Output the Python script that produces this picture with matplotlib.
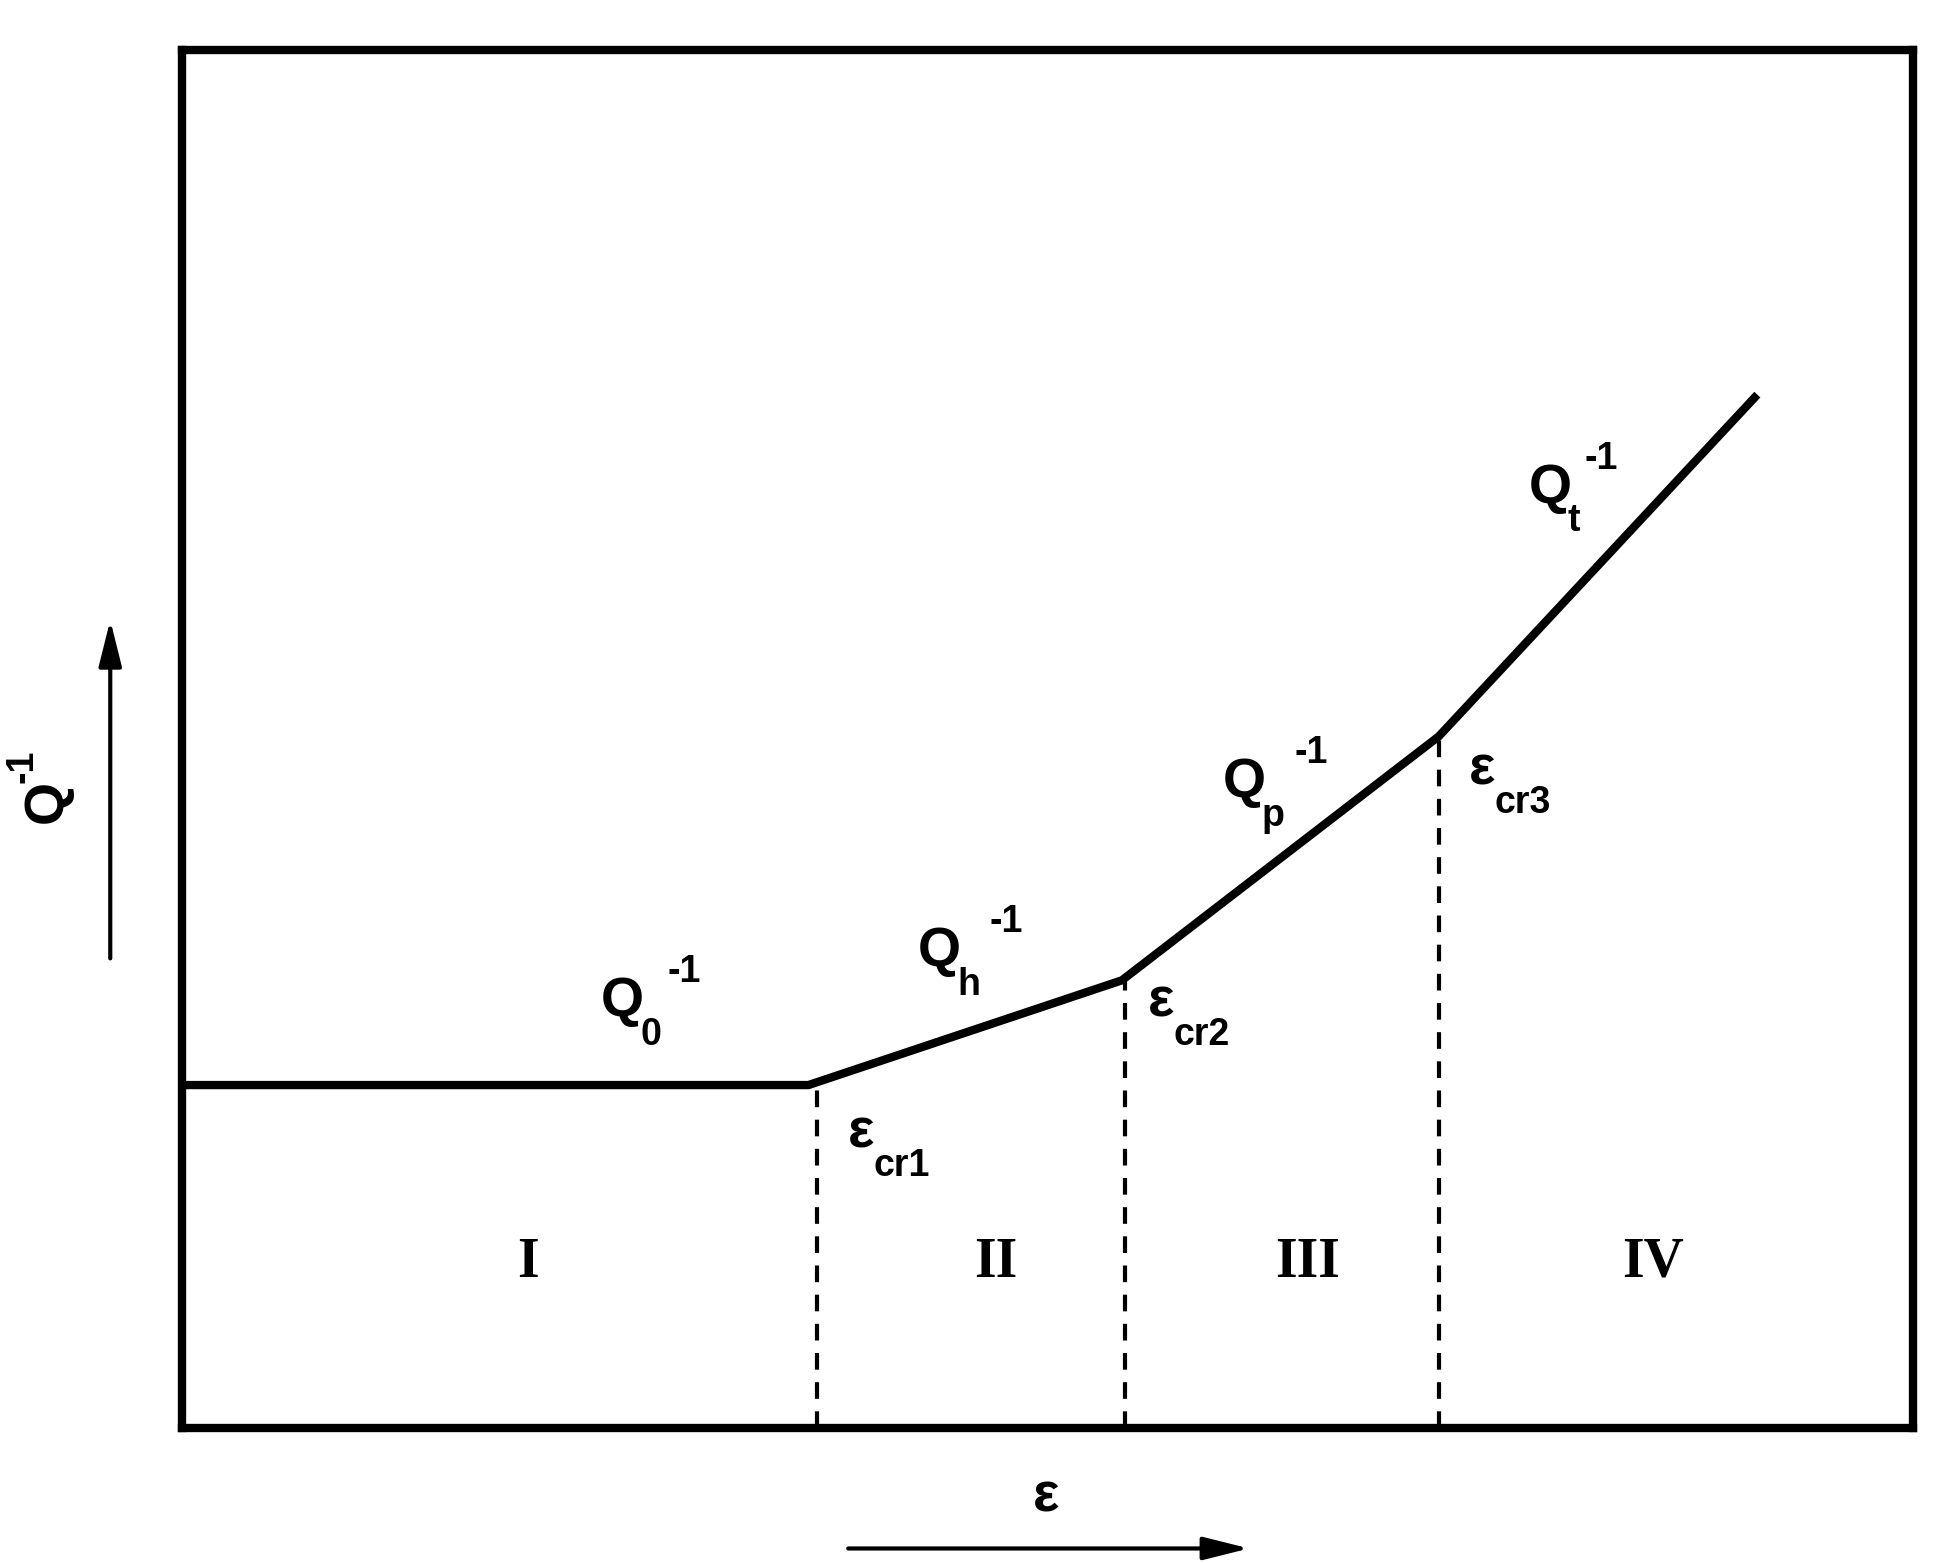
import matplotlib
matplotlib.use("Agg")
import matplotlib.pyplot as plt

# data
strain = [0, 36.2, 54.3, 72.6, 91.0]
q_inv = [24.9, 24.9, 32.5, 50.2, 75.0]
crit_x = [36.7, 54.5, 72.6]
crit_y = [24.9, 32.5, 50.2]
regions = ["I", "II", "III", "IV"]
region_x = [20, 47, 65, 85]

W, H = 1550, 1247.6
fig = plt.figure(figsize=(19.42, 15.63), dpi=100)
ax = fig.add_axes([145/W, 1-1140/H, 1382/W, 1100/H])
ax.set_xlim(0, 100); ax.set_ylim(0, 100)
ax.set_xticks([]); ax.set_yticks([])
for s in ax.spines.values():
    s.set_linewidth(6)
ax.plot(strain, q_inv, color="black", lw=6, solid_capstyle="butt")
for x, y in zip(crit_x, crit_y):
    ax.plot([x, x], [0, y], color="black", lw=3, ls=(0, (4, 3)))

def P(px, py):
    return (px/W, 1-py/H)

bold = dict(family="Liberation Sans", weight="bold", color="black")
def lab(main, sub, sup, x, y, dx_sub, dx_sup):
    fig.text(*P(x, y), main, fontsize=40, ha="center", va="center", **bold)
    fig.text(*P(x+dx_sub, y+26), sub, fontsize=27, ha="left", va="center", **bold)
    if sup:
        fig.text(*P(x+dx_sup, y-24), sup, fontsize=27, ha="left", va="center", **bold)

lab("Q", "0", "-1", 497, 800, 14, 36)
lab("Q", "h", "-1", 750, 760, 14, 40)
lab("Q", "p", "-1", 993, 625, 14, 40)
lab("Q", "t", "-1", 1237, 390, 14, 28)
lab("ε", "cr1", None, 687, 905, 10, 0)
lab("ε", "cr2", None, 927, 800, 10, 0)
lab("ε", "cr3", None, 1183, 615, 10, 0)

for r, x in zip(regions, region_x):
    ax.text(x, 12, r, fontsize=40, family="Liberation Serif", weight="bold",
            ha="center", va="center")

aprops = dict(arrowstyle="-|>,head_length=1.4,head_width=0.35", lw=3, color="black",
              shrinkA=0, shrinkB=0, mutation_scale=20)
ax.annotate("", xy=P(88, 495), xytext=P(88, 765), xycoords="figure fraction",
            textcoords="figure fraction", arrowprops=aprops, annotation_clip=False)
ax.annotate("", xy=P(997, 1236), xytext=P(677, 1236), xycoords="figure fraction",
            textcoords="figure fraction", arrowprops=aprops, annotation_clip=False)
fig.text(*P(38, 640), "Q", fontsize=40, rotation=90, ha="center", va="center", **bold)
fig.text(*P(18, 612), "-1", fontsize=27, rotation=90, ha="center", va="center", **bold)
fig.text(*P(835, 1195), "ε", fontsize=40, ha="center", va="center", **bold)

fig.savefig("out.png", dpi=100)
